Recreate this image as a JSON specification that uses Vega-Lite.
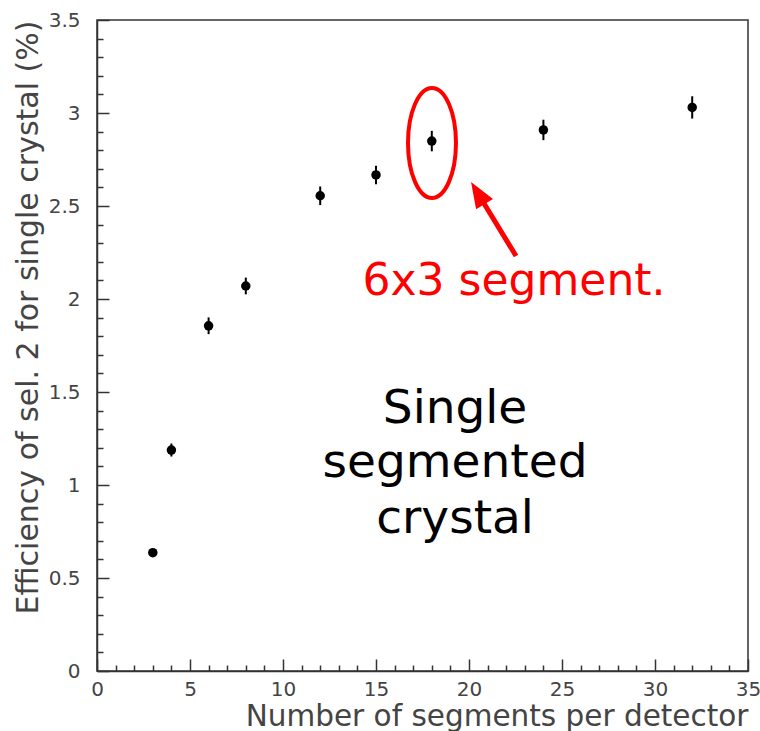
{
  "$schema": "https://vega.github.io/schema/vega-lite/v6.json",
  "width": 651,
  "height": 651,
  "autosize": {"type": "none"},
  "padding": {"left": 97, "top": 20, "right": 12, "bottom": 60},
  "background": "white",
  "config": {
    "view": {"stroke": "#333", "strokeWidth": 1.5},
    "axis": {"grid": false}
  },
  "datasets": {
    "points": [
      {"segments": 3, "eff": 0.636, "lo": 0.62, "hi": 0.652},
      {"segments": 4, "eff": 1.188, "lo": 1.153, "hi": 1.223},
      {"segments": 6, "eff": 1.856, "lo": 1.811, "hi": 1.901},
      {"segments": 8, "eff": 2.07, "lo": 2.025, "hi": 2.115},
      {"segments": 12, "eff": 2.555, "lo": 2.505, "hi": 2.605},
      {"segments": 15, "eff": 2.667, "lo": 2.617, "hi": 2.717},
      {"segments": 18, "eff": 2.849, "lo": 2.794, "hi": 2.904},
      {"segments": 24, "eff": 2.909, "lo": 2.854, "hi": 2.964},
      {"segments": 32, "eff": 3.03, "lo": 2.97, "hi": 3.09}
    ],
    "ellipse": [{"x": 18.01, "y": 2.839}],
    "arrow": [{"x": 22.53, "y": 2.231, "x2": 20.44, "y2": 2.574, "hx": 20.11, "hy": 2.629}],
    "redtext": [{"label": "6x3 segment.", "x": 22.42, "y": 2.022}],
    "blacktext": [
      {"label": "Single", "x": 19.25, "y": 1.333},
      {"label": "segmented", "x": 19.25, "y": 1.043},
      {"label": "crystal", "x": 19.25, "y": 0.742}
    ]
  },
  "resolve": {"axis": {"x": "independent", "y": "independent"}},
  "layer": [
    {
      "data": {"name": "points"},
      "mark": {"type": "rule", "color": "black", "strokeWidth": 2},
      "encoding": {
        "x": {
          "field": "segments", "type": "quantitative",
          "scale": {"domain": [0, 35], "nice": false, "zero": false},
          "axis": {
            "orient": "bottom",
            "values": [0, 5, 10, 15, 20, 25, 30, 35],
            "tickSize": -12, "tickColor": "#333", "tickWidth": 1.5,
            "domain": true, "domainColor": "#333", "domainWidth": 1.5,
            "labelFont": "DejaVu Sans", "labelFontSize": 20, "labelColor": "#444",
            "labelPadding": 20, "labelFlush": false,
            "title": "Number of segments per detector",
            "titleFont": "DejaVu Sans", "titleFontSize": 29.5, "titleFontWeight": "normal",
            "titleColor": "#444", "titleAnchor": "end", "titlePadding": 3
          }
        },
        "y": {
          "field": "lo", "type": "quantitative",
          "scale": {"domain": [0, 3.5], "nice": false, "zero": false},
          "axis": {
            "orient": "left",
            "values": [0, 0.5, 1, 1.5, 2, 2.5, 3, 3.5],
            "format": "~g",
            "tickSize": -12, "tickColor": "#333", "tickWidth": 1.5,
            "domain": true, "domainColor": "#333", "domainWidth": 1.5,
            "labelFont": "DejaVu Sans", "labelFontSize": 20, "labelColor": "#444",
            "labelPadding": 29, "labelFlush": false,
            "title": "Efficiency of sel. 2 for single crystal (%)",
            "titleFont": "DejaVu Sans", "titleFontSize": 30, "titleFontWeight": "normal",
            "titleColor": "#444", "titleAnchor": "end", "titlePadding": 5
          }
        },
        "y2": {"field": "hi"}
      }
    },
    {
      "data": {"name": "points"},
      "mark": {"type": "point", "shape": "circle", "filled": true, "color": "black", "size": 90, "opacity": 1},
      "encoding": {
        "x": {"field": "segments", "type": "quantitative", "scale": {"domain": [0, 35], "nice": false, "zero": false}, "axis": null},
        "y": {"field": "eff", "type": "quantitative", "scale": {"domain": [0, 3.5], "nice": false, "zero": false}, "axis": null}
      }
    },
    {
      "data": {"name": "points"},
      "mark": {"type": "point", "opacity": 0},
      "encoding": {
        "x": {
          "field": "segments", "type": "quantitative",
          "scale": {"domain": [0, 35], "nice": false, "zero": false},
          "axis": {
            "orient": "bottom",
            "values": [1, 2, 3, 4, 6, 7, 8, 9, 11, 12, 13, 14, 16, 17, 18, 19, 21, 22, 23, 24, 26, 27, 28, 29, 31, 32, 33, 34],
            "tickSize": -6, "tickColor": "#333", "tickWidth": 1.5,
            "domain": false, "labels": false, "title": null
          }
        },
        "y": {
          "field": "eff", "type": "quantitative",
          "scale": {"domain": [0, 3.5], "nice": false, "zero": false},
          "axis": {
            "orient": "left",
            "values": [0.1, 0.2, 0.3, 0.4, 0.6, 0.7, 0.8, 0.9, 1.1, 1.2, 1.3, 1.4, 1.6, 1.7, 1.8, 1.9, 2.1, 2.2, 2.3, 2.4, 2.6, 2.7, 2.8, 2.9, 3.1, 3.2, 3.3, 3.4],
            "tickSize": -6, "tickColor": "#333", "tickWidth": 1.5,
            "domain": false, "labels": false, "title": null
          }
        }
      }
    },
    {
      "data": {"name": "ellipse"},
      "mark": {
        "type": "point",
        "shape": "M0.436,0 C0.436,0.5523 0.2408,1 0,1 C-0.2408,1 -0.436,0.5523 -0.436,0 C-0.436,-0.5523 -0.2408,-1 0,-1 C0.2408,-1 0.436,-0.5523 0.436,0 Z",
        "filled": false, "stroke": "#ff0000", "strokeWidth": 4, "size": 12100, "opacity": 1
      },
      "encoding": {
        "x": {"field": "x", "type": "quantitative", "scale": {"domain": [0, 35], "nice": false, "zero": false}, "axis": null},
        "y": {"field": "y", "type": "quantitative", "scale": {"domain": [0, 3.5], "nice": false, "zero": false}, "axis": null}
      }
    },
    {
      "data": {"name": "arrow"},
      "mark": {"type": "rule", "color": "#ff0000", "strokeWidth": 5},
      "encoding": {
        "x": {"field": "x", "type": "quantitative", "scale": {"domain": [0, 35], "nice": false, "zero": false}, "axis": null},
        "y": {"field": "y", "type": "quantitative", "scale": {"domain": [0, 3.5], "nice": false, "zero": false}, "axis": null},
        "x2": {"field": "x2"},
        "y2": {"field": "y2"}
      }
    },
    {
      "data": {"name": "arrow"},
      "mark": {
        "type": "point", "shape": "M0,0 L-0.38,1 L0.38,1 Z",
        "filled": true, "color": "#ff0000", "size": 2704, "angle": 328.7, "opacity": 1
      },
      "encoding": {
        "x": {"field": "hx", "type": "quantitative", "scale": {"domain": [0, 35], "nice": false, "zero": false}, "axis": null},
        "y": {"field": "hy", "type": "quantitative", "scale": {"domain": [0, 3.5], "nice": false, "zero": false}, "axis": null}
      }
    },
    {
      "data": {"name": "redtext"},
      "mark": {"type": "text", "font": "DejaVu Sans", "fontSize": 44, "color": "#ff0000", "align": "center", "baseline": "alphabetic"},
      "encoding": {
        "x": {"field": "x", "type": "quantitative", "scale": {"domain": [0, 35], "nice": false, "zero": false}, "axis": null},
        "y": {"field": "y", "type": "quantitative", "scale": {"domain": [0, 3.5], "nice": false, "zero": false}, "axis": null},
        "text": {"field": "label"}
      }
    },
    {
      "data": {"name": "blacktext"},
      "mark": {"type": "text", "font": "DejaVu Sans", "fontSize": 47, "color": "black", "align": "center", "baseline": "alphabetic"},
      "encoding": {
        "x": {"field": "x", "type": "quantitative", "scale": {"domain": [0, 35], "nice": false, "zero": false}, "axis": null},
        "y": {"field": "y", "type": "quantitative", "scale": {"domain": [0, 3.5], "nice": false, "zero": false}, "axis": null},
        "text": {"field": "label"}
      }
    }
  ]
}
